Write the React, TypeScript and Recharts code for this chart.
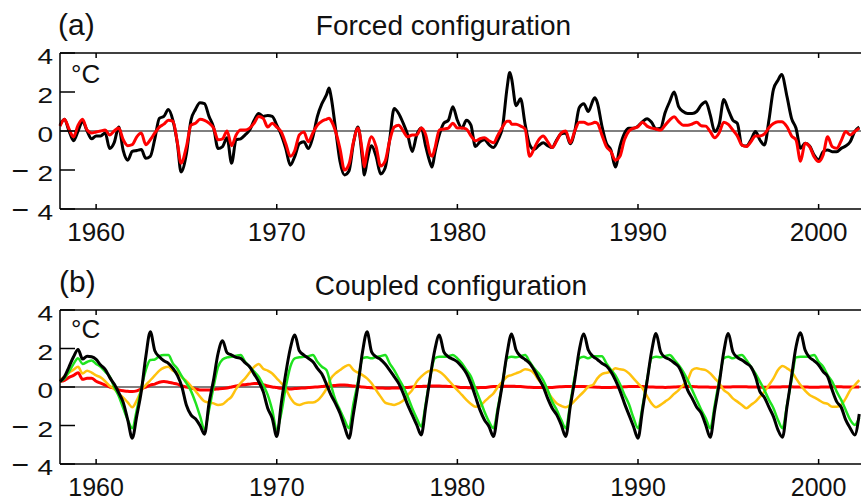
import { LineChart, Line, XAxis, YAxis, ReferenceLine } from 'recharts';

// Panel (a) – forced configuration, years (quarterly + a few extremes)
const yearsA = [
  1958, 1958.25, 1958.5, 1958.75, 1959, 1959.25, 1959.5, 1959.75,
  1960, 1960.25, 1960.5, 1960.75, 1961, 1961.25, 1961.5, 1961.75,
  1962, 1962.25, 1962.5, 1962.75, 1963, 1963.25, 1963.5, 1963.75,
  1964, 1964.25, 1964.5, 1964.7, 1965, 1965.25, 1965.5, 1965.75,
  1966, 1966.25, 1966.5, 1966.75, 1967, 1967.25, 1967.5, 1967.75,
  1968, 1968.25, 1968.5, 1968.75, 1969, 1969.25, 1969.5, 1969.75,
  1970, 1970.25, 1970.5, 1970.75, 1971, 1971.25, 1971.5, 1971.75,
  1972, 1972.25, 1972.5, 1972.75, 1972.9, 1973, 1973.25, 1973.5, 1973.75,
  1974, 1974.25, 1974.5, 1974.75, 1974.85, 1975, 1975.25, 1975.5, 1975.75,
  1976, 1976.25, 1976.5, 1976.75, 1977, 1977.25, 1977.5, 1977.75,
  1978, 1978.25, 1978.5, 1978.6, 1978.75, 1979, 1979.25, 1979.5, 1979.75,
  1980, 1980.25, 1980.5, 1980.75, 1981, 1981.25, 1981.5, 1981.75,
  1982, 1982.25, 1982.5, 1982.75, 1982.9, 1983, 1983.25, 1983.5, 1983.75,
  1984, 1984.25, 1984.5, 1984.75, 1985, 1985.25, 1985.5, 1985.75,
  1986, 1986.25, 1986.5, 1986.75, 1987, 1987.25, 1987.5, 1987.6, 1987.75,
  1988, 1988.25, 1988.5, 1988.75, 1989, 1989.25, 1989.5, 1989.75,
  1990, 1990.25, 1990.5, 1990.75, 1991, 1991.25, 1991.5, 1991.75,
  1992, 1992.25, 1992.5, 1992.75, 1993, 1993.25, 1993.5, 1993.75,
  1994, 1994.25, 1994.5, 1994.75, 1995, 1995.25, 1995.5, 1995.75,
  1996, 1996.25, 1996.5, 1996.75, 1997, 1997.25, 1997.5, 1997.75,
  1997.95, 1998.25, 1998.5, 1998.75, 1999, 1999.25, 1999.5, 1999.75,
  2000, 2000.25, 2000.5, 2000.75, 2001, 2001.25, 2001.5, 2001.75,
  2002, 2002.25,
];

const blackA = [
  0.3, 0.6, 0.0, -0.5, 0.0, 0.5, 0.0, -0.4,
  -0.25, -0.25, -0.1, -0.9, -0.6, 0.2, -1.0, -1.5,
  -1.05, -1.0, -0.95, -1.4, -1.3, -0.4, 0.65, 0.75,
  1.1, 0.55, -0.65, -2.1, -1.15, 0.55, 1.1, 1.45,
  1.4, 0.75, 0.2, -0.9, -0.8, -0.35, -1.65, -0.45,
  -0.4, -0.2, 0.05, 0.55, 0.9, 0.75, 0.8, 0.75,
  0.3, -0.2, -0.9, -1.75, -1.3, -0.65, -0.55, -0.9,
  -0.3, 0.75, 1.4, 1.85, 2.2, 1.8, 0.15, -1.55, -2.25,
  -2.05, -0.6, 0.2, -1.5, -2.25, -1.55, -0.75, -1.3, -2.2,
  -1.9, -0.45, 1.15, 0.9, 0.4, -0.2, -1.05, -0.2,
  0.15, -0.8, -1.65, -1.85, -1.15, -0.2, 0.4, 0.55, 1.25,
  0.55, 0.15, 0.55, 0.3, -0.8, -0.55, -0.45, -0.7,
  -0.85, -0.45, 0.2, 2.2, 3.0, 2.7, 1.3, 1.65, 0.35,
  -0.7, -0.95, -0.75, -0.6, -0.75, -0.85, -0.45, -0.15,
  -0.1, -0.65, 0.0, 1.2, 1.4, 1.0, 1.55, 1.7, 1.45,
  0.27, -0.63, -0.97, -1.85, -0.8, -0.12, 0.14, 0.14,
  0.25, 0.48, 0.63, 0.45, 0.1, 0.14, 0.94, 1.5,
  2.0, 1.25, 1.0, 0.9, 0.9, 1.0, 1.33, 1.5,
  0.82, -0.03, 0.36, 1.62, 1.08, 0.56, 0.39, -0.72,
  -0.77, -0.46, -0.03, -0.46, -0.72, 0.56, 2.14, 2.6,
  2.9, 1.76, 0.65, 0.14, -0.89, -0.63, -0.77, -1.23,
  -1.49, -1.06, -0.97, -1.06, -1.06, -0.89, -0.77, -0.55,
  -0.03, 0.2,
];

const redA = [
  0.25, 0.6, 0.1, -0.3, 0.3, 0.6, 0.05, -0.1,
  -0.05, 0.0, 0.05, -0.2, 0.0, 0.15, -0.45, -0.75,
  -0.7, -0.3, -0.1, -0.7, -0.45, -0.1, 0.2, 0.35,
  0.55, 0.5, -0.6, -1.65, -0.8, 0.3, 0.4, 0.6,
  0.55, 0.4, 0.15, -0.45, -0.4, 0.0, -0.75, -0.2,
  0.05, 0.05, 0.15, 0.4, 0.75, 0.65, 0.2, 0.4,
  0.2, -0.05, -0.65, -1.3, -1.0, -0.2, -0.05, -0.55,
  -0.1, 0.3, 0.5, 0.6, 0.65, 0.55, 0.0, -0.9, -2.0,
  -1.7, -0.55, 0.15, -1.15, -1.85, -1.05, -0.3, -0.8, -1.8,
  -1.55, -0.5, 0.2, 0.3, 0.0, -0.3, -0.2, -0.2,
  0.15, -0.2, -1.2, -1.3, -0.9, 0.05, 0.1, 0.15, 0.4,
  0.15, 0.15, 0.1, -0.25, -0.5, -0.4, -0.35, -0.5,
  -0.6, -0.2, 0.2, 0.5, 0.5, 0.35, 0.35, 0.25, 0.1,
  -1.3, -0.9, -0.45, -0.25, -0.55, -0.85, -0.5, -0.1,
  0.0, -0.6, 0.0, 0.45, 0.45, 0.35, 0.4, 0.45, 0.4,
  -0.2, -0.8, -1.05, -1.5, -1.3, -0.45, 0.0, 0.14,
  0.22, 0.45, 0.25, 0.15, 0.1, 0.05, 0.3, 0.56,
  0.73, 0.48, 0.3, 0.3, 0.36, 0.45, 0.27, 0.25,
  -0.03, -0.35, -0.08, 0.45, 0.34, 0.05, -0.25, -0.72,
  -0.8, -0.55, -0.25, -0.25, -0.15, 0.17, 0.39, 0.48,
  0.48, 0.22, -0.25, -0.46, -1.55, -0.63, -0.8, -1.32,
  -1.57, -1.23, -0.3, -0.8, -0.89, -0.5, -0.03, -0.2,
  -0.03, 0.15,
];

// Panel (b) – coupled configuration, quarterly values from 1958.0
const startB = 1958;
const blackB = [
  0.28, 0.54, 1.05, 1.57, 1.95, 1.45, 1.6, 1.57,
  1.43, 1.14, 0.92, 0.5, 0.15, -0.3, -0.8, -1.71,
  -2.66, -1.5, -0.24, 1.57, 2.87, 1.88, 1.57, 1.36,
  1.23, 0.97, 0.6, 0.0, -0.95, -1.45, -1.65, -2.0,
  -2.45, -0.85, 0.36, 1.74, 2.4, 1.78, 1.66, 1.54,
  1.49, 1.26, 1.05, 0.67, 0.28, -0.24, -1.1, -1.62,
  -2.57, -0.85, 0.71, 2.0, 2.7, 1.88, 1.66, 1.49,
  1.31, 0.97, 0.67, 0.15, -0.41, -0.85, -1.36, -2.05,
  -2.66, -1.36, 0.1, 1.83, 2.87, 1.83, 1.57, 1.43,
  1.19, 0.88, 0.54, 0.19, -0.33, -0.93, -1.45, -1.97,
  -2.49, -1.02, 0.54, 1.92, 2.7, 1.83, 1.57, 1.45,
  1.31, 1.05, 0.71, 0.19, -0.5, -1.19, -1.71, -2.05,
  -2.57, -1.19, 0.19, 1.74, 2.75, 1.92, 1.6, 1.43,
  1.23, 0.88, 0.45, 0.02, -0.59, -1.1, -1.45, -1.97,
  -2.57, -1.02, 0.36, 1.92, 2.75, 1.92, 1.6, 1.43,
  1.23, 1.09, 0.8, 0.36, -0.19, -0.85, -1.45, -2.05,
  -2.66, -1.19, 0.28, 1.83, 2.78, 1.83, 1.54, 1.43,
  1.26, 1.05, 0.54, -0.16, -0.59, -1.05, -1.36, -1.97,
  -2.61, -1.19, 0.19, 1.83, 2.78, 1.83, 1.54, 1.4,
  1.23, 1.05, 0.54, -0.24, -0.54, -1.05, -1.54, -2.23,
  -2.61, -1.02, 0.54, 2.09, 2.82, 1.92, 1.54, 1.36,
  1.14, 0.8, 0.54, -0.16, -0.76, -1.05, -1.71, -2.14,
  -2.49, -1.4,
];

const greenB = [
  0.28, 0.45, 0.8, 1.2, 1.5, 1.2, 1.3, 1.38,
  1.2, 1.05, 0.8, 0.55, 0.0, -0.47, -1.1, -1.7,
  -2.14, -1.2, -0.07, 0.88, 1.4, 1.43, 1.6, 1.66,
  1.66, 1.23, 0.95, 0.55, 0.2, -0.2, -0.8, -1.5,
  -2.2, -1.2, 0.0, 1.05, 1.43, 1.54, 1.57, 1.62,
  1.66, 1.31, 1.05, 0.8, 0.54, 0.1, -0.41, -1.2,
  -2.23, -1.36, 0.0, 1.05, 1.49, 1.54, 1.57, 1.6,
  1.66, 1.31, 1.05, 0.88, 0.1, -0.67, -1.19, -1.71,
  -2.14, -0.85, 0.28, 1.49, 1.54, 1.49, 1.57, 1.6,
  1.66, 1.23, 0.88, 0.45, 0.02, -0.5, -1.1, -1.62,
  -2.05, -0.85, 0.54, 1.49, 1.57, 1.57, 1.6, 1.66,
  1.49, 1.23, 0.88, 0.54, -0.07, -0.67, -1.28, -1.8,
  -2.14, -1.02, 0.19, 1.49, 1.57, 1.54, 1.6, 1.66,
  1.31, 0.97, 0.71, 0.36, -0.16, -0.76, -1.19, -1.71,
  -2.14, -0.85, 0.54, 1.49, 1.57, 1.49, 1.6, 1.6,
  1.6, 1.23, 0.9, 0.6, 0.15, -0.4, -0.9, -1.6,
  -2.14, -1.02, 0.36, 1.49, 1.57, 1.54, 1.6, 1.66,
  1.43, 1.14, 0.8, 0.36, -0.16, -0.67, -1.19, -1.62,
  -2.14, -0.93, 0.36, 1.49, 1.57, 1.49, 1.6, 1.66,
  1.4, 1.05, 0.71, 0.28, -0.16, -0.67, -1.1, -1.71,
  -2.14, -0.93, 0.36, 1.54, 1.57, 1.57, 1.6, 1.66,
  1.31, 1.05, 0.62, 0.28, -0.24, -0.67, -1.19, -1.71,
  -1.97, -1.6,
];

const orangeB = [
  0.35, 0.55, 0.75, 0.9, 1.05, 0.7, 0.85, 0.75,
  0.6, 0.5, 0.3, 0.05, -0.1, -0.35, -0.55, -0.8,
  -1.05, -0.7, -0.2, 0.1, 0.35, 0.6, 0.85, 1.0,
  1.05, 0.85, 0.75, 0.5, 0.3, 0.05, -0.2, -0.5,
  -0.75, -0.8, -0.85, -0.93, -0.9, -0.7, -0.5, -0.1,
  0.2, 0.45, 0.75, 1.05, 1.2, 0.95, 0.85, 0.7,
  0.45, 0.2, -0.1, -0.55, -0.85, -0.93, -0.85, -0.8,
  -0.8, -0.7, -0.45, -0.1, 0.45, 0.71, 0.88, 1.05,
  1.14, 0.88, 0.74, 0.62, 0.45, 0.19, -0.16, -0.5,
  -0.81, -0.88, -0.93, -0.85, -0.71, -0.41, -0.16, 0.28,
  0.54, 0.74, 0.85, 0.88, 0.8, 0.62, 0.36, 0.1,
  -0.16, -0.41, -0.67, -0.88, -1.02, -0.98, -0.76, -0.54,
  -0.33, 0.02, 0.28, 0.54, 0.62, 0.71, 0.8, 0.92,
  0.88, 0.71, 0.36, 0.1, -0.24, -0.59, -0.85, -0.98,
  -1.05, -0.93, -0.71, -0.47, -0.24, 0.02, 0.1, 0.45,
  0.67, 0.74, 0.8, 0.97, 0.92, 0.88, 0.71, 0.45,
  0.19, -0.07, -0.47, -0.85, -1.05, -0.93, -0.76, -0.59,
  -0.36, -0.16, 0.1, 0.36, 0.88, 0.97, 0.92, 0.88,
  0.71, 0.45, 0.19, -0.16, -0.33, -0.59, -0.76, -0.93,
  -1.1, -0.93, -0.76, -0.5, -0.24, 0.1, 0.45, 0.88,
  1.09, 0.97, 0.8, 0.45, 0.1, -0.19, -0.41, -0.54,
  -0.67, -0.81, -0.88, -1.02, -1.02, -0.93, -0.59, -0.16,
  0.1, 0.36,
];

const redB = [
  0.3, 0.35, 0.5, 0.6, 0.74, 0.4, 0.45, 0.45,
  0.3, 0.2, 0.1, 0.0, -0.05, -0.15, -0.2, -0.22,
  -0.24, -0.2, -0.1, 0.0, 0.1, 0.15, 0.25, 0.28,
  0.25, 0.2, 0.15, 0.05, 0.0, -0.05, -0.1, -0.15,
  -0.16, -0.16, -0.12, -0.1, -0.08, -0.05, 0.0, 0.05,
  0.1, 0.12, 0.15, 0.18, 0.18, 0.12, 0.05, 0.0,
  -0.03, -0.07, -0.08, -0.1, -0.08, -0.06, -0.05, -0.03,
  -0.01, 0.0, 0.02, 0.05, 0.06, 0.08, 0.1, 0.1,
  0.08, 0.05, 0.03, 0.0, -0.02, -0.04, -0.05, -0.05,
  -0.06, -0.06, -0.05, -0.05, -0.04, -0.02, 0.0, 0.02,
  0.03, 0.04, 0.05, 0.05, 0.05, 0.04, 0.03, 0.02,
  0.0, -0.02, -0.03, -0.04, -0.04, -0.03, -0.02, 0.0,
  0.02, 0.03, 0.04, 0.04, 0.04, 0.03, 0.02, 0.0,
  -0.01, -0.02, -0.03, -0.03, -0.03, -0.02, 0.0, 0.01,
  0.02, 0.03, 0.03, 0.03, 0.02, 0.01, 0.0, -0.01,
  -0.02, -0.02, -0.02, -0.01, 0.0, 0.01, 0.02, 0.02,
  0.02, 0.02, 0.01, 0.0, -0.01, -0.01, -0.02, -0.01,
  0.0, 0.01, 0.01, 0.02, 0.02, 0.01, 0.0, 0.0,
  -0.01, -0.01, -0.01, 0.0, 0.0, 0.01, 0.01, 0.01,
  0.01, 0.0, 0.0, -0.01, -0.01, -0.01, 0.0, 0.0,
  0.01, 0.01, 0.01, 0.0, 0.0, 0.0, -0.01, -0.01,
  -0.01, 0.0, 0.0, 0.01, 0.01, 0.01, 0.0, 0.0,
  0.0, 0.0,
];

const yearTicks = [1960, 1970, 1980, 1990, 2000];
const tempTicks = [-4, -2, 0, 2, 4];

const dataA = yearsA.map((year, i) => ({ year, black: blackA[i], red: redA[i] }));
const dataB = blackB.map((v, i) => ({
  year: startB + i / 4,
  black: v,
  green: greenB[i],
  orange: orangeB[i],
  red: redB[i],
}));

const FONT = '"Liberation Sans", Arial, Helvetica, sans-serif';
const X_DOMAIN: [number, number] = [1958, 2002.9];

const bottomTick = (labelDy: number, size: number) => (props: any) => {
  const { x, y, payload } = props;
  return (
    <g>
      <line x1={x} y1={y} x2={x} y2={y - 5} stroke="#000" strokeWidth={1.5} />
      <text x={x} y={y + labelDy} textAnchor="middle" fontSize={size} fontFamily={FONT} fill="#111">
        {payload.value}
      </text>
    </g>
  );
};

const topTick = (props: any) => {
  const { x, y } = props;
  return <line x1={x} y1={y} x2={x} y2={y + 5} stroke="#000" strokeWidth={1.5} />;
};

// y labels in the original are a bit wide and flat, so squash them vertically
const leftTick = (props: any) => {
  const { x, y, payload } = props;
  const v = payload.value;
  const by = y + 11;
  return (
    <g>
      <line x1={x} y1={y} x2={x + 15} y2={y} stroke="#000" strokeWidth={1.5} />
      <text transform={`translate(${x - 7},${by}) scale(1,0.76)`} textAnchor="end" fontSize={28}
        fontFamily={FONT} fill="#111">
        {Math.abs(v)}
      </text>
      {v < 0 && (
        <text x={x - 31} y={y + 11} textAnchor="end" fontSize={30} fontFamily={FONT} fill="#111">
          −
        </text>
      )}
    </g>
  );
};

const rightTick = (props: any) => {
  const { x, y } = props;
  return <line x1={x} y1={y} x2={x - 15} y2={y} stroke="#000" strokeWidth={1.5} />;
};

function Frame() {
  const axisLine = { stroke: '#000', strokeWidth: 1.5 };
  return [
    <XAxis key="xt" xAxisId="top" orientation="top" type="number" dataKey="year" domain={X_DOMAIN}
      ticks={yearTicks} interval={0} height={1} tickSize={0} tickMargin={0} tickLine={false}
      axisLine={axisLine} tick={topTick} />,
    <YAxis key="yr" yAxisId="r" orientation="right" type="number" domain={[-4, 4]} ticks={tempTicks}
      interval={0} width={1} tickSize={0} tickMargin={0} tickLine={false} axisLine={axisLine} tick={rightTick} />,
  ];
}

export default function App() {
  const axisLine = { stroke: '#000', strokeWidth: 1.5 };
  return (
    <div style={{ position: 'absolute', left: 0, top: 0, width: 861, height: 502, overflow: 'hidden', background: '#fff' }}>
      <div style={{ position: 'absolute', left: 0, top: 0 }}>
        <LineChart width={878} height={250} data={dataA} margin={{ top: 52, right: 6, bottom: 40, left: 0 }}>
          <XAxis type="number" dataKey="year" domain={X_DOMAIN} ticks={yearTicks} interval={0} height={1}
            tickSize={0} tickMargin={0} tickLine={false} axisLine={axisLine} tick={bottomTick(32, 26)} />
          <YAxis type="number" domain={[-4, 4]} ticks={tempTicks} interval={0} width={60}
            tickSize={0} tickMargin={0} tickLine={false} axisLine={axisLine} tick={leftTick} />
          {Frame()}
          <ReferenceLine y={0} stroke="#000" strokeWidth={1} />
          <Line type="monotone" dataKey="black" stroke="#000" strokeWidth={3} dot={false} isAnimationActive={false} />
          <Line type="monotone" dataKey="red" stroke="#ff0000" strokeWidth={3} dot={false} isAnimationActive={false} />
        </LineChart>
      </div>
      <div style={{ position: 'absolute', left: 0, top: 250 }}>
        <LineChart width={878} height={252} data={dataB} margin={{ top: 59, right: 6, bottom: 37, left: 0 }}>
          <XAxis type="number" dataKey="year" domain={X_DOMAIN} ticks={yearTicks} interval={0} height={1}
            tickSize={0} tickMargin={0} tickLine={false} axisLine={axisLine} tick={bottomTick(32, 25)} />
          <YAxis type="number" domain={[-4, 4]} ticks={tempTicks} interval={0} width={60}
            tickSize={0} tickMargin={0} tickLine={false} axisLine={axisLine} tick={leftTick} />
          {Frame()}
          <ReferenceLine y={0} stroke="#000" strokeWidth={1} />
          <Line type="monotone" dataKey="red" stroke="#ff0000" strokeWidth={3} dot={false} isAnimationActive={false} />
          <Line type="monotone" dataKey="orange" stroke="#ffc20e" strokeWidth={2.5} dot={false} isAnimationActive={false} />
          <Line type="monotone" dataKey="green" stroke="#1fe31f" strokeWidth={2.5} dot={false} isAnimationActive={false} />
          <Line type="monotone" dataKey="black" stroke="#000" strokeWidth={3} dot={false} isAnimationActive={false} />
        </LineChart>
      </div>
      <svg width={861} height={502} style={{ position: 'absolute', left: 0, top: 0, pointerEvents: 'none' }}
        fontFamily={FONT} fill="#111">
        <text x={58} y={35} fontSize={30}>(a)</text>
        <text x={443.5} y={35} fontSize={28} textAnchor="middle">Forced configuration</text>
        <text x={71} y={83} fontSize={26}>°C</text>
        <text x={59} y={292} fontSize={30}>(b)</text>
        <text x={451} y={295} fontSize={28} textAnchor="middle">Coupled configuration</text>
        <text x={71} y={338} fontSize={26}>°C</text>
      </svg>
    </div>
  );
}
